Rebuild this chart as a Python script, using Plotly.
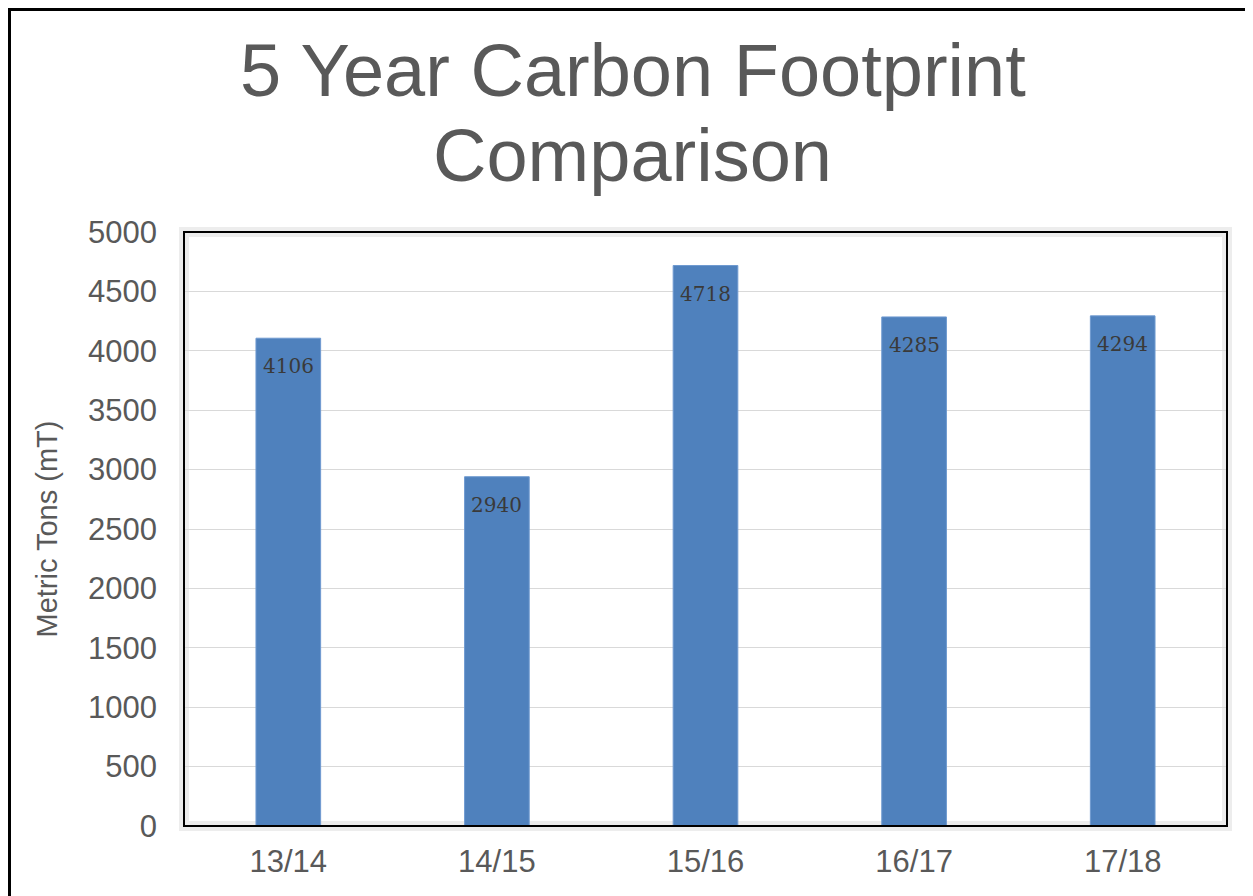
import plotly.graph_objects as go

categories = ["13/14", "14/15", "15/16", "16/17", "17/18"]
values = [4106, 2940, 4718, 4285, 4294]
y_ticks = [0, 500, 1000, 1500, 2000, 2500, 3000, 3500, 4000, 4500, 5000]

OFF = 8  # page body margin
W, H = 1245, 888
L, T = 184 - OFF, 232 - OFF
R = W - (1227 - OFF)
B = H - (826 - OFF)
pw, ph = W - L - R, H - T - B

def px_x(x):
    return (x - OFF - L) / pw

def px_y(y):
    return 1 - (y - OFF - T) / ph

fig = go.Figure()
fig.add_trace(go.Bar(
    x=categories, y=values,
    marker=dict(color="#4F81BD", line=dict(color="#6F9AD0", width=1)),
    width=0.31,
    hoverinfo="x+y",
))

for c, v in zip(categories, values):
    fig.add_annotation(x=c, y=v, text=str(v), showarrow=False,
                       yanchor="middle", yshift=-28,
                       font=dict(family="DejaVu Serif", size=20, color="#3A3A3A"))

title_font = dict(family="Liberation Sans, Arial", size=74, color="#595959")
fig.add_annotation(xref="paper", yref="paper", x=px_x(633), y=px_y(70),
                   text="5 Year Carbon Footprint", showarrow=False,
                   xanchor="center", yanchor="middle", font=title_font)
fig.add_annotation(xref="paper", yref="paper", x=px_x(632), y=px_y(156),
                   text="Comparison", showarrow=False,
                   xanchor="center", yanchor="middle", font=title_font)

# plot area frame + faint shadow
fig.add_shape(type="rect", xref="paper", yref="paper", x0=0, y0=0, x1=1, y1=1,
              line=dict(color="rgba(0,0,0,0.07)", width=10), layer="below")
fig.add_shape(type="rect", xref="paper", yref="paper", x0=0, y0=0, x1=1, y1=1,
              line=dict(color="black", width=2))
# outer border (left and top)
fig.add_shape(type="line", xref="paper", yref="paper",
              x0=px_x(9.5), x1=px_x(9.5), y0=px_y(H + 20), y1=px_y(9.5),
              line=dict(color="black", width=3))
fig.add_shape(type="line", xref="paper", yref="paper",
              x0=px_x(8), x1=px_x(W + 20), y0=px_y(9.5), y1=px_y(9.5),
              line=dict(color="black", width=3))

tick_font = dict(family="Liberation Sans, Arial", size=31, color="#595959")
fig.update_layout(
    width=W, height=H,
    margin=dict(l=L, r=R, t=T, b=B),
    paper_bgcolor="white", plot_bgcolor="white",
    showlegend=False,
    bargap=0.69,
    xaxis=dict(showline=False, showgrid=False, ticks="", tickfont=tick_font,
               ticklabelstandoff=14),
    yaxis=dict(range=[0, 5000], tickvals=y_ticks, showgrid=True,
               gridcolor="#D9D9D9", gridwidth=1, zeroline=False, showline=False,
               tickfont=tick_font, ticklabelstandoff=26,
               title=dict(text="Metric Tons (mT)", standoff=21,
                          font=dict(family="Liberation Sans, Arial", size=29, color="#595959"))),
)

fig.write_html("out.html")
